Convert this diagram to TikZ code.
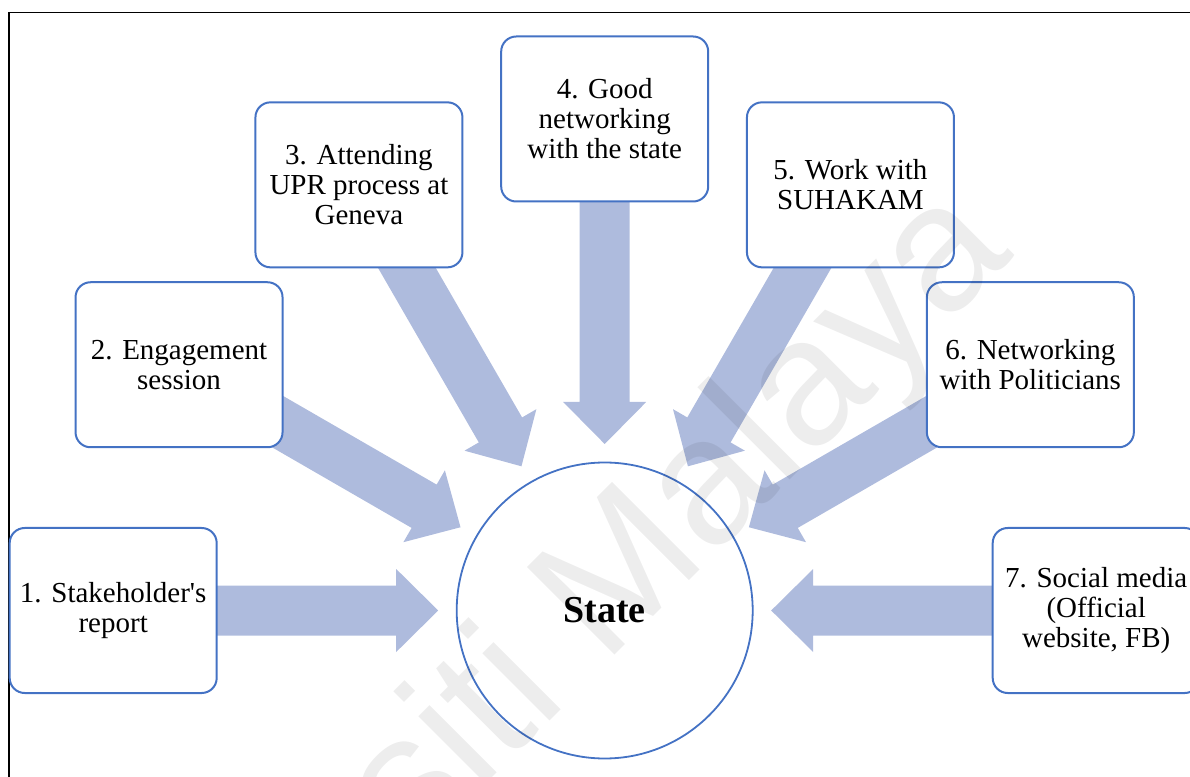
\documentclass[tikz,border=0pt]{standalone}
\usepackage{fontspec}
\setmainfont{Liberation Serif}[Ligatures=TeXOff]
\newfontfamily\wmfont{Liberation Sans}
\usetikzlibrary{calc,backgrounds}

\definecolor{boxblue}{RGB}{68,114,196}
\definecolor{arrowfill}{RGB}{174,187,221}

\tikzset{
  stagebox/.style={draw=boxblue, line width=2pt, fill=white, rounded corners=15pt,
    minimum width=207pt, minimum height=165pt, align=center, inner sep=0pt,
    text=black, font=\fontsize{29}{30}\selectfont},
  hub/.style={circle, draw=boxblue, line width=1.8pt, fill=white, minimum size=296pt,
    inner sep=0pt, text=black, font=\fontsize{38}{40}\selectfont\bfseries},
  blockarrow/.style={fill=arrowfill, draw=none},
  framerule/.style={draw=black, line width=1.3pt},
  watermark/.style={rotate=45, anchor=base, text=black, text opacity=0.07,
    font=\wmfont\fontsize{180}{180}\selectfont},
}

\begin{document}
\begin{tikzpicture}[x=1pt,y=1pt]
  % page area, centred on the hub
  \useasboundingbox (-604.7,-165.5) rectangle (585.3,610.5);

  % outer frame (top and left edges)
  \coordinate (fl) at (-595.7,598);
  \coordinate (fr) at (600,598);
  \coordinate (fb) at (-595.7,-170);
  \draw[framerule] (fr) -- (fl) -- (fb);

  % central hub
  \node[hub] (hub) at (0,0) {State};

  % the seven stages on a half ring around the hub
  \node[stagebox] (b1) at (180:491.5pt) {1. Stakeholder's\\report};
  \node[stagebox] (b2) at (150:491.5pt) {2. Engagement\\session};
  \node[stagebox] (b3) at (120:491.5pt) {3. Attending\\UPR process at\\Geneva};
  \node[stagebox] (b4) at (90:491.5pt)  {4. Good\\networking\\with the state};
  \node[stagebox] (b5) at (60:491.5pt)  {5. Work with\\SUHAKAM};
  \node[stagebox] (b6) at (30:491.5pt)  {6. Networking\\with Politicians};
  \node[stagebox] (b7) at (0:491.5pt)   {7. Social media\\(Official\\website, FB)};

  % block arrows from each stage towards the hub
  \begin{pgfonlayer}{background}
    \foreach \b in {b1,b2,b3,b4,b5,b6,b7}{
      \coordinate (hb) at ($(hub.center)!208.5pt!(\b.center)$);
      \coordinate (tip) at ($(hub.center)!166.5pt!(\b.center)$);
      \fill[blockarrow]
        ($(\b.center)!25pt!-90:(hub.center)$)
        -- ($(hb)!25pt!90:(\b.center)$)
        -- ($(hb)!41.5pt!90:(\b.center)$)
        -- (tip)
        -- ($(hb)!41.5pt!-90:(\b.center)$)
        -- ($(hb)!25pt!-90:(\b.center)$)
        -- ($(\b.center)!25pt!90:(hub.center)$)
        -- cycle;
    }
  \end{pgfonlayer}

  % watermark
  \node[watermark] (wm) at (-74,-129) {Universiti Malaya};
\end{tikzpicture}
\end{document}
